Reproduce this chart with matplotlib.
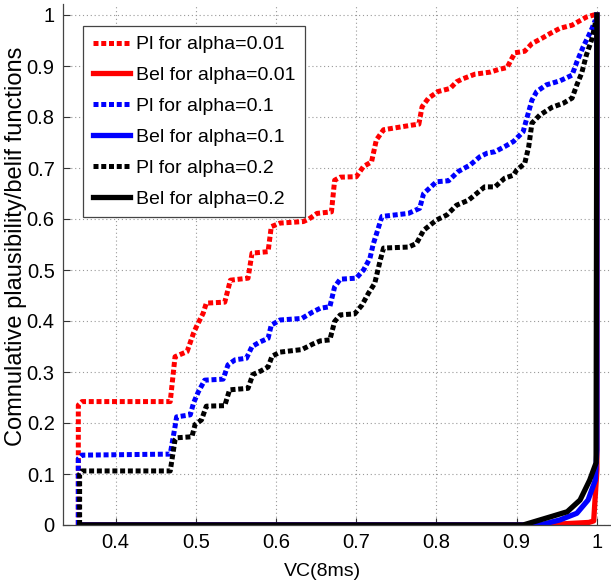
import numpy as np
import matplotlib
matplotlib.use('Agg')
import matplotlib.pyplot as plt

# Pl curves (x, y)
pl_001_x = [0.3534, 0.3534, 0.358, 0.468, 0.474, 0.489, 0.497, 0.501, 0.509, 0.513, 0.536, 0.543,
            0.565, 0.570, 0.590, 0.594, 0.605, 0.634, 0.641, 0.651, 0.669, 0.673, 0.680, 0.700,
            0.709, 0.719, 0.725, 0.734, 0.769, 0.778, 0.782, 0.790, 0.802, 0.817, 0.825, 0.833,
            0.848, 0.867, 0.877, 0.888, 0.894, 0.898, 0.910, 0.919, 0.931, 0.942, 0.954, 0.969,
            0.979, 0.987, 0.996, 1.0]
pl_001_y = [0.0, 0.235, 0.242, 0.242, 0.330, 0.340, 0.376, 0.390, 0.415, 0.435, 0.437, 0.480,
            0.484, 0.533, 0.536, 0.585, 0.592, 0.595, 0.600, 0.611, 0.614, 0.676, 0.682, 0.683,
            0.703, 0.712, 0.755, 0.775, 0.784, 0.786, 0.820, 0.837, 0.850, 0.856, 0.869, 0.875,
            0.884, 0.888, 0.893, 0.897, 0.915, 0.926, 0.929, 0.944, 0.954, 0.964, 0.974, 0.980,
            0.989, 0.996, 1.0, 1.0]

pl_01_x = [0.3534, 0.3534, 0.358, 0.468, 0.474, 0.476, 0.493, 0.497, 0.503, 0.511, 0.534, 0.540,
           0.549, 0.563, 0.570, 0.580, 0.590, 0.594, 0.605, 0.632, 0.646, 0.655, 0.667, 0.673,
           0.680, 0.700, 0.709, 0.717, 0.721, 0.732, 0.765, 0.779, 0.784, 0.800, 0.815, 0.827,
           0.842, 0.854, 0.863, 0.873, 0.885, 0.896, 0.908, 0.912, 0.919, 0.925, 0.937, 0.954,
           0.969, 0.975, 0.983, 0.989, 0.994, 0.998]
pl_01_y = [0.0, 0.130, 0.137, 0.139, 0.193, 0.212, 0.216, 0.239, 0.261, 0.284, 0.286, 0.314,
           0.324, 0.327, 0.350, 0.359, 0.366, 0.392, 0.402, 0.405, 0.418, 0.425, 0.428, 0.467,
           0.482, 0.484, 0.500, 0.523, 0.550, 0.605, 0.611, 0.621, 0.650, 0.673, 0.675, 0.693,
           0.706, 0.722, 0.729, 0.732, 0.742, 0.752, 0.771, 0.794, 0.833, 0.850, 0.863, 0.871,
           0.882, 0.908, 0.938, 0.957, 0.974, 0.990]

pl_02_x = [0.355, 0.355, 0.358, 0.468, 0.474, 0.476, 0.495, 0.499, 0.507, 0.513, 0.536, 0.542,
           0.565, 0.571, 0.581, 0.590, 0.595, 0.605, 0.632, 0.646, 0.655, 0.667, 0.673, 0.680,
           0.698, 0.707, 0.715, 0.723, 0.730, 0.734, 0.765, 0.775, 0.784, 0.800, 0.813, 0.825,
           0.840, 0.850, 0.860, 0.873, 0.885, 0.896, 0.900, 0.910, 0.915, 0.919, 0.929, 0.944,
           0.958, 0.969, 0.975, 0.981, 0.987, 0.994, 0.998]
pl_02_y = [0.0, 0.100, 0.106, 0.106, 0.167, 0.171, 0.173, 0.197, 0.206, 0.233, 0.234, 0.265,
           0.268, 0.295, 0.302, 0.310, 0.331, 0.339, 0.344, 0.355, 0.361, 0.363, 0.399, 0.412,
           0.414, 0.431, 0.454, 0.474, 0.520, 0.543, 0.545, 0.552, 0.578, 0.598, 0.608, 0.627,
           0.637, 0.650, 0.663, 0.663, 0.680, 0.686, 0.696, 0.709, 0.742, 0.788, 0.804, 0.819,
           0.827, 0.837, 0.863, 0.886, 0.922, 0.954, 0.984]

# Bel curves
bel_001_x = [0.355, 0.930, 0.990, 0.996, 1.0, 1.0]
bel_001_y = [0.0, 0.0, 0.005, 0.008, 0.108, 1.0]
bel_01_x = [0.355, 0.929, 0.954, 0.975, 0.989, 0.998, 1.0, 1.0]
bel_01_y = [0.0, 0.0, 0.010, 0.023, 0.049, 0.088, 0.147, 1.0]
bel_02_x = [0.355, 0.908, 0.942, 0.963, 0.979, 0.991, 0.999, 1.0]
bel_02_y = [0.0, 0.0, 0.016, 0.026, 0.049, 0.088, 0.122, 1.0]

labels = ['Pl for alpha=0.01', 'Bel for alpha=0.01', 'Pl for alpha=0.1',
          'Bel for alpha=0.1', 'Pl for alpha=0.2', 'Bel for alpha=0.2']
xticks = [0.4, 0.5, 0.6, 0.7, 0.8, 0.9, 1.0]
xticklabels = ['0.4', '0.5', '0.6', '0.7', '0.8', '0.9', '1']
yticks = [0.0, 0.1, 0.2, 0.3, 0.4, 0.5, 0.6, 0.7, 0.8, 0.9, 1.0]
yticklabels = ['0', '0.1', '0.2', '0.3', '0.4', '0.5', '0.6', '0.7', '0.8', '0.9', '1']

plt.rcParams['font.family'] = ['Liberation Sans', 'DejaVu Sans']

W, H = 611, 587
fig = plt.figure(figsize=(W / 100, H / 100), dpi=100)
ax = fig.add_axes([63 / W, (H - 525) / H, (W - 63) / W, (525 - 4) / H])

dot = (0, (1.0, 0.55))
lw_pl = 3.6
lw_bel = 3.8
ax.plot(pl_001_x, pl_001_y, color='#ff0000', lw=lw_pl, ls=dot, dash_capstyle='butt', label=labels[0])
ax.plot(bel_001_x, bel_001_y, color='#ff0000', lw=lw_bel, label=labels[1])
ax.plot(pl_01_x, pl_01_y, color='#0000ff', lw=lw_pl, ls=dot, dash_capstyle='butt', label=labels[2])
ax.plot(bel_01_x, bel_01_y, color='#0000ff', lw=lw_bel, label=labels[3])
ax.plot(pl_02_x, pl_02_y, color='black', lw=lw_pl, ls=dot, dash_capstyle='butt', label=labels[4])
ax.plot(bel_02_x, bel_02_y, color='black', lw=lw_bel, label=labels[5])

ax.set_xlim(0.3343, 0.4 + (611 - 115.7) / 802)
ax.set_ylim(0, (525 - 4) / 510)
ax.set_xticks(xticks)
ax.set_xticklabels(xticklabels)
ax.set_yticks(yticks)
ax.set_yticklabels(yticklabels)
ax.tick_params(direction='in', length=5, width=0.8, colors='#333333', labelcolor='black',
               labelsize=14.5, pad=6)
ax.grid(True, ls=(0, (1, 2.5)), lw=0.8, color='#999999')
for s in ['top', 'right']:
    ax.spines[s].set_visible(False)
for s in ['left', 'bottom']:
    ax.spines[s].set_color('#444444')
    ax.spines[s].set_linewidth(0.9)

ax.set_xlabel('VC(8ms)', fontsize=14)
ax.xaxis.set_label_coords((322.5 - 63) / (W - 63), -(571 - 525) / (525 - 4))
ax.xaxis.label.set_va('center')
ax.set_ylabel('Comnulative plausibility/belif functions', fontsize=17)
ax.yaxis.set_label_coords(-(63 - 16) / (W - 63), (525 - 246) / (525 - 4))
ax.yaxis.label.set_va('center')

leg = ax.legend(loc='upper left', bbox_to_anchor=(83 / W, 1 - 26 / H), bbox_transform=fig.transFigure,
                borderaxespad=0, fontsize=14, handlelength=1.9, handletextpad=0.3,
                labelspacing=0.68, borderpad=0.5, fancybox=False, framealpha=1)
leg.get_frame().set_edgecolor('#444444')
leg.get_frame().set_linewidth(0.9)

fig.savefig('out.png', dpi=100)
